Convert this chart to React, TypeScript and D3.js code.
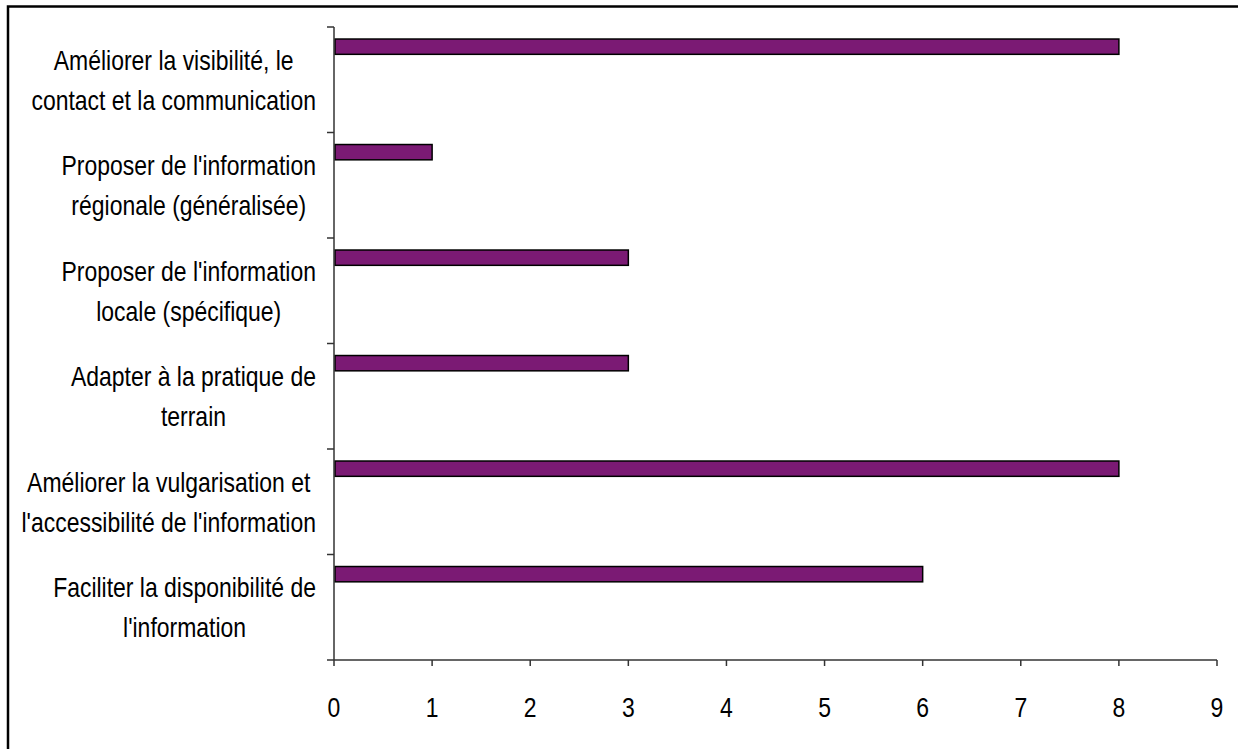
import React from "react";
import * as d3 from "d3";

const categories: string[][] = [
  ["Améliorer la visibilité, le", "contact et la communication"],
  ["Proposer de l'information", "régionale (généralisée)"],
  ["Proposer de l'information", "locale (spécifique)"],
  ["Adapter à la pratique de", "terrain"],
  ["Améliorer la vulgarisation et", "l'accessibilité de l'information"],
  ["Faciliter la disponibilité de", "l'information"],
];
const values: number[] = [8, 1, 3, 3, 8, 6];
const xTicks: number[] = [0, 1, 2, 3, 4, 5, 6, 7, 8, 9];

const W = 1238;
const H = 749;
const FONT = "'Liberation Sans', Arial, sans-serif";
const FS = 28;
const SX = 0.82;
const LABEL_RIGHT = 316;

let ctx: CanvasRenderingContext2D | null = null;
function measure(s: string): number {
  if (!ctx && typeof document !== "undefined") {
    ctx = document.createElement("canvas").getContext("2d");
  }
  if (!ctx) return s.length * FS * 0.5;
  ctx.font = `${FS}px 'Liberation Sans', Arial, sans-serif`;
  return ctx.measureText(s).width;
}

export default function App() {
  const keys = categories.map((c) => c.join(" "));
  const x = d3.scaleLinear().domain([0, 9]).range([334, 1217]);
  const y = d3.scaleBand<string>().domain(keys).range([27, 660]).padding(0);
  const bw = y.bandwidth();
  const barOff = bw * 0.114;
  const barH = bw * 0.145;
  const yBoundaries = [...keys.map((k) => y(k) as number), 660];

  return (
    <svg
      width={W}
      height={H}
      style={{ position: "absolute", left: 0, top: 0, background: "#fff" }}
    >
      <rect x={8} y={6.5} width={W + 20} height={H + 20} fill="#fff" stroke="#000" strokeWidth={2.5} />
      {values.map((v, i) => (
        <rect
          key={i}
          x={x(0) + 1}
          y={(y(keys[i]) as number) + barOff}
          width={x(v) - x(0) - 1}
          height={barH}
          fill="#7b1a74"
          stroke="#000"
          strokeWidth={1.5}
        />
      ))}
      <line x1={x(0)} x2={x(0)} y1={27} y2={660} stroke="#333" strokeWidth={1.5} />
      {yBoundaries.map((b, i) => (
        <line key={i} x1={x(0) - 7} x2={x(0)} y1={b} y2={b} stroke="#333" strokeWidth={1.5} />
      ))}
      <line x1={x(0)} x2={x(9)} y1={660} y2={660} stroke="#333" strokeWidth={1.5} />
      {xTicks.map((t) => (
        <g key={t}>
          <line x1={x(t)} x2={x(t)} y1={660} y2={666} stroke="#333" strokeWidth={1.5} />
          <text
            transform={`translate(${x(t)},717) scale(${SX},1)`}
            textAnchor="middle"
            fontFamily={FONT}
            fontSize={FS}
            fill="#000"
          >
            {t}
          </text>
        </g>
      ))}
      {categories.map((lines, i) => {
        const cy = (y(keys[i]) as number) + bw / 2;
        const boxW = Math.max(...lines.map((l) => measure(l) * SX));
        const cx = LABEL_RIGHT - boxW / 2;
        return (
          <text
            key={i}
            transform={`translate(${cx},${cy - 10}) scale(${SX},1)`}
            textAnchor="middle"
            fontFamily={FONT}
            fontSize={FS}
            fill="#000"
          >
            {lines.map((ln, j) => (
              <tspan key={j} x={0} y={j * 40}>
                {ln}
              </tspan>
            ))}
          </text>
        );
      })}
    </svg>
  );
}
